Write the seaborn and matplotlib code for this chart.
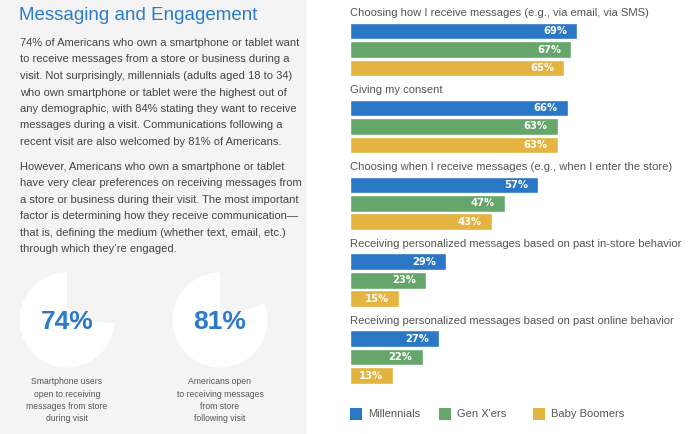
import matplotlib
matplotlib.use("Agg")
import matplotlib.pyplot as plt
import pandas as pd
import seaborn as sns

# data
questions = [
    "Choosing how I receive messages (e.g., via email, via SMS)",
    "Giving my consent",
    "Choosing when I receive messages (e.g., when I enter the store)",
    "Receiving personalized messages based on past in-store behavior",
    "Receiving personalized messages based on past online behavior",
]
generations = ["Millennials", "Gen X'ers", "Baby Boomers"]
millennials = [69, 66, 57, 29, 27]
gen_x = [67, 63, 47, 23, 22]
boomers = [65, 63, 43, 15, 13]

donut_values = [74, 81]
donut_captions = [
    "Smartphone users\nopen to receiving\nmessages from store\nduring visit",
    "Americans open\nto receiving messages\nfrom store\nfollowing visit",
]

title = "Messaging and Engagement"
para1 = [
    "74% of Americans who own a smartphone or tablet want",
    "to receive messages from a store or business during a",
    "visit. Not surprisingly, millennials (adults aged 18 to 34)",
    "who own smartphone or tablet were the highest out of",
    "any demographic, with 84% stating they want to receive",
    "messages during a visit. Communications following a",
    "recent visit are also welcomed by 81% of Americans.",
]
para2 = [
    "However, Americans who own a smartphone or tablet",
    "have very clear preferences on receiving messages from",
    "a store or business during their visit. The most important",
    "factor is determining how they receive communication\u2014",
    "that is, defining the medium (whether text, email, etc.)",
    "through which they\u2019re engaged.",
]

colors = ["#2a77c6", "#66a66a", "#e4b441"]
blue_text = "#2b7bca"
W, H = 700, 434

sns.set_theme(style="white")
plt.rcParams["font.family"] = ["Liberation Sans", "DejaVu Sans"]

fig = plt.figure(figsize=(7, 4.34), dpi=100)


def fx(x):
    return x / W


def fy(y):
    return 1 - y / H


# left grey panel
bg = fig.add_axes([0, 0, fx(307), 1], zorder=-5)
bg.set_facecolor("#f4f4f4")
bg.set_xticks([])
bg.set_yticks([])
for s in bg.spines.values():
    s.set_visible(False)

fig.text(fx(19), fy(16), title, fontsize=13.5, color=blue_text, va="center", ha="left")
for i, line in enumerate(para1):
    fig.text(fx(20), fy(43 + i * 16.5), line, fontsize=8.0, color="#444444",
             va="center", ha="left")
for i, line in enumerate(para2):
    fig.text(fx(20), fy(167 + i * 16.4), line, fontsize=8.0, color="#444444",
             va="center", ha="left")

# two pies
for cx, val, cap in zip([67, 220], donut_values, donut_captions):
    r = 47.5
    pax = fig.add_axes([fx(cx - r), fy(320 + r), 2 * r / W, 2 * r / H])
    pax.pie([val, 100 - val], colors=["white", "#f4f4f4"], startangle=90,
            counterclock=True, wedgeprops=dict(linewidth=0))
    pax.set_xlim(-1, 1)
    pax.set_ylim(-1, 1)
    pax.set_axis_off()
    fig.text(fx(cx), fy(322), f"{val}%", fontsize=19, fontweight="bold",
             color=blue_text, ha="center", va="center")
    fig.text(fx(cx), fy(377.5), cap, fontsize=6.2, color="#555555", ha="center",
             va="top", linespacing=1.44)

# bar chart
df = pd.DataFrame({
    "question": questions * 3,
    "generation": [g for g in generations for _ in questions],
    "pct": millennials + gen_x + boomers,
})

ax = fig.add_axes([fx(350), 0, 1 - fx(350), 1])
ax.set_facecolor("none")
sns.barplot(data=df, x="pct", y="question", hue="generation", orient="h",
            palette=colors, width=0.72, gap=0.1, saturation=1, legend=False, ax=ax)
ax.set_xlim(0, 106.2)
ax.set_ylim(5.0, -0.644)
ax.set_xticks([])
ax.set_yticks([])
ax.set_xlabel("")
ax.set_ylabel("")
for s in ax.spines.values():
    s.set_visible(False)

offsets = [-0.24, 0, 0.24]
for i, q in enumerate(questions):
    ax.text(0, i - 0.475, q, fontsize=8.1, color="#555555", ha="left", va="center",
            clip_on=False)
    for k, vals in enumerate([millennials, gen_x, boomers]):
        ax.text(vals[i] - 3.0, i + offsets[k], f"{vals[i]}%", fontsize=7.2,
                family="DejaVu Sans", fontweight="bold", color="white",
                ha="right", va="center")

# legend
leg_x = [350, 439, 533]
for x0, name, c in zip(leg_x, generations, colors):
    fig.patches.append(plt.Rectangle((fx(x0), fy(420)), 12 / W, 12 / H,
                                     transform=fig.transFigure, facecolor=c,
                                     edgecolor="none"))
    fig.text(fx(x0 + 18), fy(414), name, fontsize=8.0, color="#555555",
             ha="left", va="center")

fig.savefig("out.png", dpi=100)
